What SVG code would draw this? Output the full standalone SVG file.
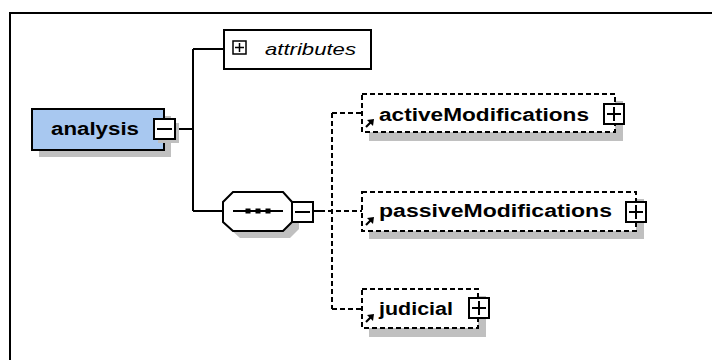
<svg xmlns="http://www.w3.org/2000/svg" width="712" height="360" viewBox="0 0 712 360">
<defs>
<style>
.sh{fill:#c0c0c0;stroke:none}
.ln{stroke:#000;stroke-width:2;fill:none}
.ds{stroke:#000;stroke-width:2;fill:none;stroke-dasharray:5 3}
.bx{fill:#fff;stroke:#000;stroke-width:2}
.dbx{fill:#fff;stroke:#000;stroke-width:2;stroke-dasharray:5 3}
.nm{font-family:"Liberation Sans",Arial,sans-serif;font-weight:bold;font-size:18px;fill:#000}
.at{font-family:"Liberation Sans",Arial,sans-serif;font-style:italic;font-size:17px;fill:#000}
</style>
<g id="plus">
<rect x="-10" y="-10" width="20" height="20" fill="#fff" stroke="#000" stroke-width="2"/>
<path d="M-7 0H7M0 -7V7" stroke="#000" stroke-width="2"/>
</g>
<g id="arrow">
<path d="M0 7L5 2" stroke="#000" stroke-width="2.2"/>
<polygon points="8,-1 1,0 7,6" fill="#000"/>
</g>
</defs>
<rect width="712" height="360" fill="#fff"/>
<path d="M10 360V13H712" stroke="#000" stroke-width="2" fill="none"/>

<g id="connectors">
<path class="ln" d="M175 129H193M193 49V211M193 49H224M193 211H223M313 211H320"/>
<path class="ds" d="M320 211H362M332 113V309M332 113H362M332 309H362"/>
</g>

<g id="analysis">
<rect class="sh" x="39" y="116" width="132" height="41"/>
<rect x="32" y="109" width="132" height="41" fill="#a8c8f0" stroke="#000" stroke-width="2"/>
<text class="nm" x="51" y="135" textLength="88" lengthAdjust="spacingAndGlyphs">analysis</text>
<rect class="sh" x="158" y="123" width="21" height="20"/>
<rect class="bx" x="154" y="119" width="21" height="20"/>
<path d="M157 129H172" stroke="#000" stroke-width="2"/>
</g>

<g id="attributes">
<rect class="bx" x="224" y="30" width="147" height="39"/>
<rect x="233" y="41" width="13" height="13" fill="#fff" stroke="#000" stroke-width="1.5"/>
<path d="M235 47.5H244M239.5 43V52" stroke="#000" stroke-width="1.5"/>
<text class="at" x="265" y="55" textLength="91" lengthAdjust="spacingAndGlyphs">attributes</text>
</g>

<g id="sequence">
<polygon class="sh" points="240,199 290,199 299,209 299,229 290,238 240,238 230,229 230,209"/>
<polygon points="233,192 283,192 292,202 292,222 283,231 233,231 223,222 223,202" fill="#fff" stroke="#000" stroke-width="2"/>
<path d="M233 211H283" stroke="#000" stroke-width="2"/>
<rect x="245.5" y="208.5" width="5" height="5" fill="#000"/>
<rect x="255.5" y="208.5" width="5" height="5" fill="#000"/>
<rect x="265.5" y="208.5" width="5" height="5" fill="#000"/>
<rect class="bx" x="292" y="202" width="21" height="20"/>
<path d="M295 212H310" stroke="#000" stroke-width="2"/>
</g>

<g id="activeModifications">
<rect class="sh" x="369" y="101" width="254" height="40"/>
<rect class="dbx" x="362" y="94" width="253" height="38"/>
<use href="#arrow" x="366" y="120"/>
<text class="nm" x="379" y="121" textLength="210" lengthAdjust="spacingAndGlyphs">activeModifications</text>
<use href="#plus" x="614" y="114"/>
</g>

<g id="passiveModifications">
<rect class="sh" x="369" y="199" width="275" height="40"/>
<rect class="dbx" x="362" y="192" width="274" height="39"/>
<use href="#arrow" x="366" y="218"/>
<text class="nm" x="379" y="217" textLength="233" lengthAdjust="spacingAndGlyphs">passiveModifications</text>
<use href="#plus" x="636" y="212"/>
</g>

<g id="judicial">
<rect class="sh" x="369" y="296" width="117" height="41"/>
<rect class="dbx" x="362" y="289" width="116" height="39"/>
<use href="#arrow" x="366" y="315"/>
<text class="nm" x="379" y="315" textLength="74" lengthAdjust="spacingAndGlyphs">judicial</text>
<use href="#plus" x="479" y="308"/>
</g>
</svg>
